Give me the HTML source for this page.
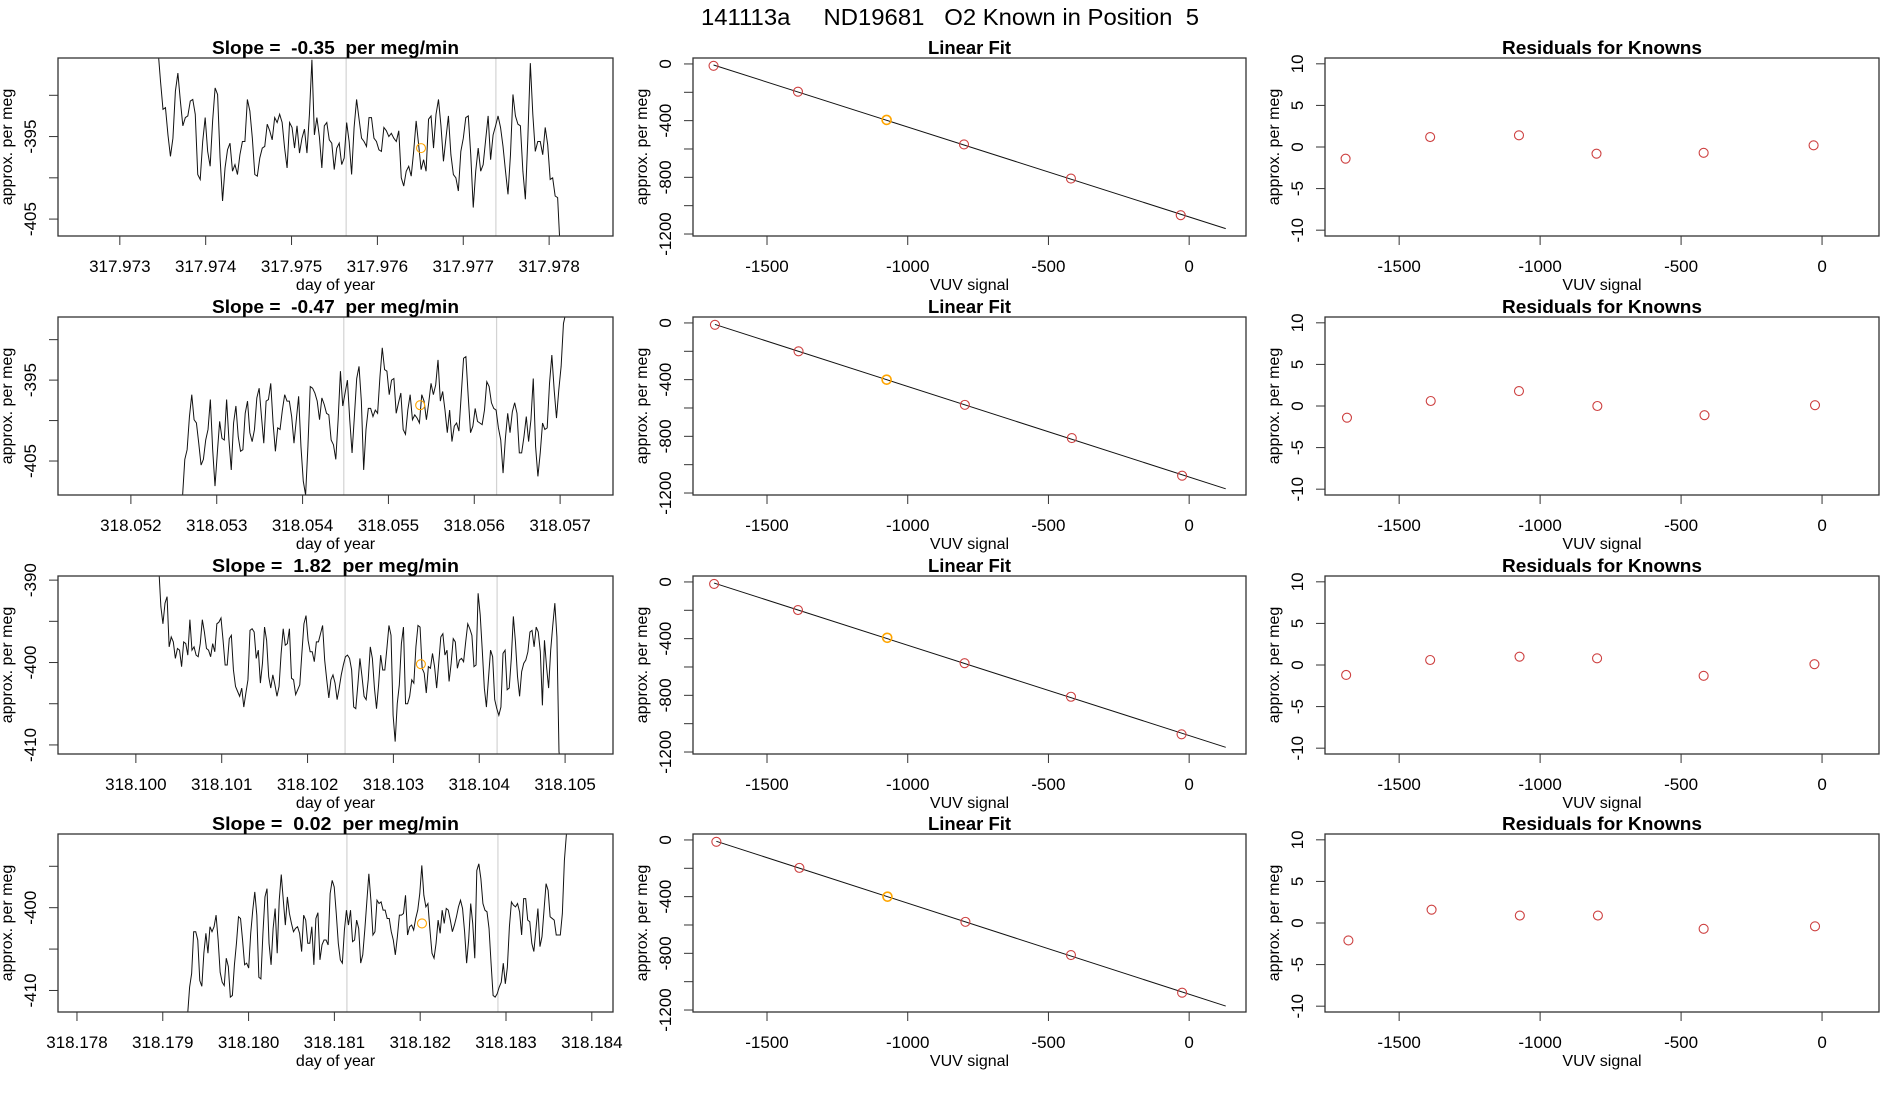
<!DOCTYPE html>
<html><head><meta charset="utf-8"><title>141113a ND19681 O2 Known in Position 5</title>
<style>
html,body{margin:0;padding:0;background:#fff;}
svg{display:block;font-family:"Liberation Sans",Arial,sans-serif;}
</style></head>
<body>
<svg id="chart" width="1900" height="1100" viewBox="0 0 1900 1100" xmlns="http://www.w3.org/2000/svg">
<rect width="1900" height="1100" fill="#fff"/>
<text x="950" y="25" text-anchor="middle" font-size="23" xml:space="preserve" textLength="498" lengthAdjust="spacingAndGlyphs">141113a     ND19681   O2 Known in Position  5</text>
</svg>
<script>
// ---------- data ----------
const slopeLabels = ["-0.35", "-0.47", "1.82", "0.02"];
const timeXStart = [317.973445, 318.052601, 318.100267, 318.179289];
const timeXEnd = [317.978128, 318.057093, 318.104953, 318.183728];
const timeXMin = [317.97228, 318.051151, 318.099093, 318.177779];
const timeXMax = [317.978744, 318.057616, 318.105558, 318.184247];
const timeYMin = [-407.05, -409.2, -411.1, -412.6];
const timeYMax = [-385.48, -387.2, -389.5, -391.1];
const timeXTicks = [
  ["317.973","317.974","317.975","317.976","317.977","317.978"],
  ["318.052","318.053","318.054","318.055","318.056","318.057"],
  ["318.100","318.101","318.102","318.103","318.104","318.105"],
  ["318.178","318.179","318.180","318.181","318.182","318.183","318.184"]
];
const timeYTicks = [[-390,-395,-400,-405],[-390,-395,-400,-405],[-390,-395,-400,-405,-410],[-395,-400,-405,-410]];
const timeYTickLabels = [["","-395","","-405"],["","-395","","-405"],["-390","","-400","","-410"],["","-400","","-410"]];
const grayLinesX = [[317.975636,317.977380],[318.05448,318.05626],[318.102437,318.104208],[318.181146,318.182906]];
const knownX = [317.976508, 318.05537, 318.10332, 318.182021];
const knownY = [-396.4, -398.1, -400.2, -401.9];

const series1 = [-384.5,-388.3,-391.7,-391.5,-394.8,-397.4,-395.2,-389.5,-387.3,-390.7,-393.7,-392.7,-392.5,-390.7,-390.5,-392.3,-399.6,-400.2,-395.6,-392.7,-396.8,-398.6,-393.1,-389.1,-389.9,-397.6,-402.8,-398.8,-396.6,-395.8,-399.2,-398.4,-399.6,-397.2,-395.6,-395.6,-390.5,-391.9,-395.2,-399.6,-399.8,-397.6,-396.4,-396.2,-393.5,-394.3,-395.4,-392.7,-393.3,-392.3,-393.3,-396.4,-398.8,-393.3,-393.9,-396.4,-393.7,-397.0,-395.2,-394.1,-397.0,-392.3,-385.7,-394.8,-392.7,-395.0,-398.8,-393.7,-393.3,-395.4,-395.8,-399.0,-396.4,-395.8,-398.4,-397.6,-393.3,-395.6,-399.6,-393.9,-390.5,-392.9,-395.2,-395.6,-396.2,-392.7,-392.7,-395.2,-395.6,-396.6,-396.8,-393.9,-394.3,-395.0,-394.6,-395.2,-395.6,-394.3,-400.0,-401.0,-399.2,-398.6,-399.8,-396.8,-393.1,-396.0,-399.0,-397.8,-399.2,-392.9,-392.5,-396.4,-392.3,-390.5,-393.7,-398.0,-395.2,-392.5,-397.2,-399.6,-400.0,-401.6,-396.8,-395.2,-392.7,-392.5,-397.2,-403.6,-399.2,-396.4,-399.2,-398.4,-395.4,-392.5,-397.8,-394.8,-393.7,-392.5,-393.9,-396.2,-399.2,-402.0,-397.2,-389.9,-392.5,-393.5,-393.7,-399.2,-402.6,-395.2,-386.1,-392.3,-396.8,-395.6,-395.6,-397.2,-393.9,-396.0,-400.2,-400.0,-402.2,-402.4,-408.5];
const series2 = [-409.5,-404.8,-403.6,-399.5,-396.8,-399.9,-400.3,-402.8,-405.5,-404.8,-402.4,-401.1,-397.4,-403.6,-408.1,-404.0,-400.1,-402.2,-402.4,-397.4,-402.4,-406.1,-400.3,-398.2,-402.0,-403.8,-403.6,-399.1,-397.6,-401.5,-402.6,-401.1,-397.2,-396.0,-399.5,-402.8,-397.6,-397.4,-395.4,-400.3,-403.8,-400.9,-401.1,-398.7,-396.8,-397.6,-397.6,-399.5,-402.8,-399.9,-397.0,-403.2,-407.5,-409.2,-403.2,-395.8,-396.0,-396.6,-397.6,-399.9,-397.2,-398.0,-399.1,-399.3,-402.4,-403.0,-404.8,-399.9,-393.9,-398.2,-396.6,-395.0,-399.9,-404.0,-399.5,-394.8,-393.3,-397.6,-406.1,-401.1,-398.5,-398.5,-399.5,-398.7,-399.1,-394.6,-391.0,-393.7,-393.9,-396.8,-395.0,-394.8,-399.1,-397.8,-396.6,-401.1,-401.7,-398.7,-396.8,-399.9,-399.3,-399.7,-400.3,-396.8,-397.6,-399.9,-397.8,-395.4,-396.8,-395.6,-392.5,-397.6,-396.4,-398.7,-401.5,-398.7,-402.6,-400.7,-400.3,-401.3,-396.8,-392.3,-392.1,-397.0,-401.5,-400.7,-398.5,-400.1,-400.3,-400.5,-398.7,-395.2,-395.8,-397.8,-398.5,-398.7,-400.9,-402.4,-406.5,-402.2,-399.1,-401.5,-398.9,-397.8,-399.1,-404.0,-404.0,-402.0,-399.5,-402.6,-399.9,-394.8,-403.2,-406.9,-404.0,-400.3,-401.1,-400.9,-395.4,-391.9,-396.2,-399.7,-396.2,-393.3,-388.0,-386.7,-385.5];
const series3 = [-388.5,-393.2,-395.3,-392.8,-392.0,-398.1,-396.9,-397.5,-399.5,-398.3,-398.5,-400.5,-397.5,-397.7,-399.1,-394.8,-398.5,-398.1,-399.1,-399.3,-397.7,-394.8,-396.3,-398.3,-398.5,-399.3,-397.7,-398.7,-395.3,-395.1,-394.6,-397.3,-400.3,-400.3,-397.1,-396.7,-400.9,-402.9,-403.5,-404.1,-403.1,-405.4,-403.7,-402.1,-396.1,-395.9,-396.3,-399.5,-398.5,-402.5,-400.1,-395.7,-397.3,-401.7,-403.1,-401.5,-402.7,-404.1,-402.9,-398.9,-395.9,-397.9,-397.7,-395.9,-401.9,-402.1,-403.9,-403.3,-402.7,-398.9,-395.3,-394.3,-397.3,-398.7,-398.7,-399.9,-397.5,-397.5,-396.5,-395.5,-399.7,-402.1,-404.3,-402.1,-401.5,-402.5,-404.5,-403.1,-401.5,-400.3,-399.3,-399.1,-399.5,-400.9,-405.4,-405.6,-402.7,-399.5,-401.7,-404.1,-404.5,-402.1,-398.1,-399.5,-403.1,-405.6,-402.7,-399.1,-400.9,-400.9,-398.3,-395.5,-396.7,-406.4,-409.6,-405.0,-402.7,-397.7,-395.7,-405.0,-405.0,-404.1,-402.1,-402.5,-398.1,-395.5,-395.7,-400.7,-401.3,-403.7,-400.5,-400.7,-398.9,-400.5,-403.1,-400.1,-396.9,-396.5,-399.1,-398.5,-402.3,-400.1,-397.1,-397.5,-400.7,-399.7,-399.5,-399.9,-397.5,-395.3,-395.9,-396.7,-400.5,-400.3,-391.6,-394.2,-398.5,-403.1,-405.4,-401.9,-398.5,-399.3,-404.5,-405.6,-406.4,-405.4,-398.9,-398.5,-403.3,-403.1,-399.5,-394.4,-397.5,-401.7,-404.1,-401.1,-400.1,-399.7,-398.7,-396.3,-396.1,-398.1,-395.7,-396.3,-398.7,-405.2,-397.3,-400.5,-403.1,-398.5,-395.5,-392.8,-396.9,-410.8,-413.0];
const series4 = [-413.0,-409.6,-407.95,-402.9,-402.9,-403.9,-408.8,-409.5,-405.5,-403.1,-405.5,-402.3,-402.9,-402.3,-400.9,-403.9,-407.8,-409.0,-409.4,-406.1,-407.1,-410.8,-410.6,-406.9,-404.3,-401.1,-401.3,-403.9,-406.9,-406.7,-407.3,-403.1,-400.3,-398.1,-400.9,-408.4,-408.6,-403.1,-398.7,-397.7,-404.3,-406.9,-402.5,-400.1,-405.5,-399.1,-396.0,-399.1,-402.1,-398.7,-400.7,-401.9,-402.9,-402.5,-402.3,-403.1,-405.3,-400.9,-401.5,-404.3,-404.3,-402.3,-406.9,-401.3,-400.6,-406.3,-404.5,-403.9,-403.9,-404.5,-398.3,-396.7,-397.5,-400.7,-404.3,-406.3,-406.7,-402.7,-400.3,-402.1,-400.3,-404.1,-403.9,-401.5,-402.5,-406.7,-405.7,-402.7,-399.3,-395.9,-399.1,-403.3,-402.9,-399.1,-399.5,-399.3,-400.3,-400.3,-401.3,-401.3,-402.9,-403.9,-405.7,-403.5,-400.9,-400.9,-400.7,-398.5,-403.3,-402.3,-402.1,-402.7,-401.3,-400.3,-398.3,-394.9,-398.5,-399.9,-399.5,-402.7,-405.5,-406.1,-404.3,-401.5,-403.1,-400.3,-401.9,-400.1,-400.3,-401.5,-402.9,-402.1,-401.1,-399.9,-399.1,-400.1,-402.9,-406.7,-403.9,-399.5,-401.9,-406.1,-395.5,-394.7,-396.5,-399.5,-400.3,-400.5,-402.5,-406.7,-410.6,-410.8,-410.4,-409.6,-409.0,-406.7,-409.2,-407.2,-402.3,-399.3,-399.7,-399.9,-399.5,-400.5,-403.3,-398.9,-398.9,-401.5,-401.7,-404.3,-405.3,-402.7,-400.1,-404.7,-403.5,-400.3,-397.1,-397.9,-401.1,-401.3,-401.5,-403.3,-403.3,-403.3,-400.7,-394.3,-391.1,-389.1];
const timeSeries = [series1, series2, series3, series4];

// Linear fit (middle) and residuals (right)
const knownSignal = [
  [-1690,-1390,-1075,-800,-420,-30],
  [-1685,-1388,-1075,-797,-417,-25],
  [-1688,-1390,-1073,-798,-420,-27],
  [-1680,-1385,-1072,-795,-420,-25]
];
const knownValue = [
  [-13,-196,-395,-568,-809,-1067],
  [-13,-200,-400,-578,-812,-1078],
  [-14,-198,-394,-573,-810,-1075],
  [-13,-197,-400,-578,-812,-1078]
];
const residuals = [
  [-1.4, 1.2, 1.4, -0.8, -0.7, 0.2],
  [-1.4, 0.6, 1.8, 0.0, -1.1, 0.1],
  [-1.2, 0.6, 1.0, 0.8, -1.3, 0.1],
  [-2.1, 1.6, 0.9, 0.9, -0.7, -0.4]
];
const knownIndexHighlighted = 2;
const signalTicks = [-1500,-1000,-500,0];
const signalTickLabels = ["-1500","-1000","-500","0"];
const fitYTicks = [0,-200,-400,-600,-800,-1000,-1200];
const fitYTickLabels = ["0","","-400","","-800","","-1200"];
const residTicks = [10,5,0,-5,-10];
const residTickLabels = ["10","5","0","-5","-10"];
const signalMin = -1763, signalMax = 202;
const fitYMin = -1214, fitYMax = 42;
const residMin = -10.7, residMax = 10.7;
const fitXEnd = 130;

// ---------- layout ----------
const colLeft = [58, 693, 1325];
const colRight = [613, 1246, 1879];
const rowTop = [58, 317, 576, 834];
const boxH = 178;
const svg = document.getElementById('chart');
const NS = 'http://www.w3.org/2000/svg';
function mk(tag, attrs, parent) {
  const e = document.createElementNS(NS, tag);
  for (const k in attrs) e.setAttribute(k, attrs[k]);
  (parent || svg).appendChild(e);
  return e;
}
function scale(d0, d1, r0, r1) { return v => r0 + (v - d0) / (d1 - d0) * (r1 - r0); }

function drawFrame(g, L, R, T, B) {
  const r = mk('rect', {x: L, y: T, width: R - L, height: B - T, fill: 'none', stroke: '#333', 'stroke-width': 1.3}, g);
  
  
}
function xAxis(g, sx, vals, labels, B, title) {
  const ax = mk('g', {}, g);
  
  
  const x0 = sx(vals[0]), x1 = sx(vals[vals.length - 1]);
  mk('line', {x1: x0, x2: x1, y1: B, y2: B, stroke: '#333', 'stroke-width': 1}, ax);
  vals.forEach((v, i) => {
    const x = sx(v);
    mk('line', {x1: x, x2: x, y1: B, y2: B + 9, stroke: '#333', 'stroke-width': 1}, ax);
    const t = mk('text', {x: x, y: B + 36, 'text-anchor': 'middle', 'font-size': 17}, ax);
    
    
    t.textContent = labels[i];
  });
  const tt = mk('text', {x: 0, y: B + 54, 'text-anchor': 'middle', 'font-size': 16}, ax);
  
  
  tt.textContent = title;
  return tt;
}
function yAxis(g, sy, vals, labels, L, offLab) {
  const ax = mk('g', {}, g);
  
  
  const y0 = sy(vals[0]), y1 = sy(vals[vals.length - 1]);
  mk('line', {x1: L, x2: L, y1: y0, y2: y1, stroke: '#333', 'stroke-width': 1}, ax);
  vals.forEach((v, i) => {
    const y = sy(v);
    mk('line', {x1: L - 9, x2: L, y1: y, y2: y, stroke: '#333', 'stroke-width': 1}, ax);
    if (labels[i] !== '') {
      const t = mk('text', {x: 0, y: 0, 'text-anchor': 'middle', 'font-size': 17,
        transform: 'translate(' + (L - offLab) + ',' + y + ') rotate(-90)'}, ax);
      
      
      t.textContent = labels[i];
    }
  });
}
function yTitle(g, L, T, B, off) {
  const t = mk('text', {x: 0, y: 0, 'text-anchor': 'middle', 'font-size': 16,
    transform: 'translate(' + (L - off) + ',' + ((T + B) / 2) + ') rotate(-90)'}, g);
  
  
  t.textContent = 'approx. per meg';
}
function panelTitle(g, L, R, T, txt, len) {
  const t = mk('text', {x: (L + R) / 2, y: T - 4, 'text-anchor': 'middle', 'font-size': 18, 'font-weight': 'bold',
    textLength: len, lengthAdjust: 'spacingAndGlyphs'}, g);
  
  
  t.textContent = txt;
}

for (let r = 0; r < 4; r++) {
  const T = rowTop[r], B = T + boxH;
  // ----- time series panel -----
  {
    const L = colLeft[0], R = colRight[0];
    const g = mk('g', {});
    
    
    const sx = scale(timeXMin[r], timeXMax[r], L, R);
    const sy = scale(timeYMin[r], timeYMax[r], B, T);
    const cp = mk('clipPath', {id: 'clip' + r}, g);
    mk('rect', {x: L, y: T, width: R - L, height: B - T}, cp);
    grayLinesX[r].forEach(v => {
      const gl = mk('line', {x1: sx(v), x2: sx(v), y1: T, y2: B, stroke: '#d3d3d3', 'stroke-width': 1.2}, g);
      
      
    });
    const vals = timeSeries[r];
    const n = vals.length;
    const pts = vals.map((v, i) => {
      const xv = timeXStart[r] + (timeXEnd[r] - timeXStart[r]) * i / (n - 1);
      return sx(xv).toFixed(2) + ',' + sy(v).toFixed(2);
    }).join(' ');
    const pl = mk('polyline', {points: pts, fill: 'none', stroke: '#111', 'stroke-width': 1, 'clip-path': 'url(#clip' + r + ')'}, g);
    
    
    const kc = mk('circle', {cx: sx(knownX[r]), cy: sy(knownY[r]), r: 4.5, fill: 'none', stroke: '#FFA500', 'stroke-width': 1.1}, g);
    
    
    drawFrame(g, L, R, T, B);
    const labs = timeXTicks[r];
    const tickVals = labs.map(s => parseFloat(s));
    const tt = xAxis(g, sx, tickVals, labs, B, 'day of year');
    tt.setAttribute('x', (L + R) / 2);
    yAxis(g, sy, timeYTicks[r], timeYTickLabels[r], L, 22);
    yTitle(g, L, T, B, 46);
    panelTitle(g, L, R, T, 'Slope =\u00a0\u00a0' + slopeLabels[r] + '\u00a0\u00a0per meg/min', 247);
  }
  // ----- linear fit panel -----
  {
    const L = colLeft[1], R = colRight[1];
    const g = mk('g', {});
    
    
    const sx = scale(signalMin, signalMax, L, R);
    const sy = scale(fitYMin, fitYMax, B, T);
    const xs = knownSignal[r], ys = knownValue[r];
    const n = xs.length;
    const mx = xs.reduce((a, b) => a + b, 0) / n, my = ys.reduce((a, b) => a + b, 0) / n;
    let sxy = 0, sxx = 0;
    for (let i = 0; i < n; i++) { sxy += (xs[i] - mx) * (ys[i] - my); sxx += (xs[i] - mx) * (xs[i] - mx); }
    const b = sxy / sxx, a = my - b * mx;
    const fl = mk('line', {x1: sx(xs[0]), y1: sy(a + b * xs[0]), x2: sx(fitXEnd), y2: sy(a + b * fitXEnd), stroke: '#111', 'stroke-width': 1}, g);
    
    
    xs.forEach((xv, i) => {
      const c = mk('circle', {cx: sx(xv), cy: sy(ys[i]), r: 4.5, fill: 'none',
        stroke: i === knownIndexHighlighted ? '#FFA500' : '#cd4040', 'stroke-width': i === knownIndexHighlighted ? 1.6 : 1.1}, g);
      
      
    });
    drawFrame(g, L, R, T, B);
    const tt = xAxis(g, sx, signalTicks, signalTickLabels, B, 'VUV signal');
    tt.setAttribute('x', (L + R) / 2);
    yAxis(g, sy, fitYTicks, fitYTickLabels, L, 22);
    yTitle(g, L, T, B, 46);
    panelTitle(g, L, R, T, 'Linear Fit', 83);
  }
  // ----- residual panel -----
  {
    const L = colLeft[2], R = colRight[2];
    const g = mk('g', {});
    
    
    const sx = scale(signalMin, signalMax, L, R);
    const sy = scale(residMin, residMax, B, T);
    residuals[r].forEach((v, i) => {
      const c = mk('circle', {cx: sx(knownSignal[r][i]), cy: sy(v), r: 4.5, fill: 'none', stroke: '#cd4040', 'stroke-width': 1.1}, g);
      
      
    });
    drawFrame(g, L, R, T, B);
    const tt = xAxis(g, sx, signalTicks, signalTickLabels, B, 'VUV signal');
    tt.setAttribute('x', (L + R) / 2);
    yAxis(g, sy, residTicks, residTickLabels, L, 22);
    yTitle(g, L, T, B, 46);
    panelTitle(g, L, R, T, 'Residuals for Knowns', 200);
  }
}
</script>
</body></html>
